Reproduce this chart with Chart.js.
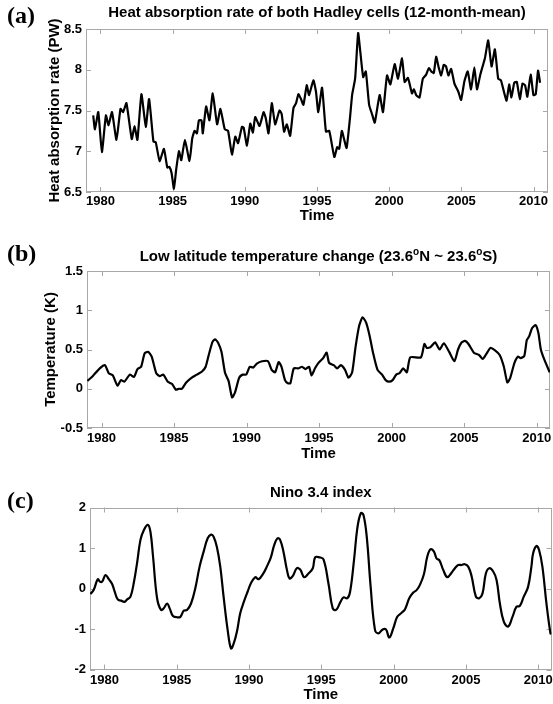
<!DOCTYPE html>
<html>
<head>
<meta charset="utf-8">
<title>Hadley cells, low latitude temperature and Nino 3.4</title>
<script src="https://cdn.jsdelivr.net/npm/chart.js@4.4.1/dist/chart.umd.min.js"></script>
<style>
  html, body { margin: 0; padding: 0; background: #fff; }
  #page { position: relative; width: 553px; height: 704px; }
  canvas { position: absolute; left: 0; }
</style>
</head>
<body>
<div id="page">
  <canvas id="chartA" width="553" height="228" style="top:0"></canvas>
  <canvas id="chartB" width="553" height="238" style="top:228px"></canvas>
  <canvas id="chartC" width="553" height="238" style="top:466px"></canvas>
</div>
<script>
const yearTicks = [1980, 1985, 1990, 1995, 2000, 2005, 2010];

// (a) heat absorption rate of both Hadley cells, 12-month running mean (PW)
const hadleyYears = [
  1979.5, 1979.62, 1979.85, 1980.1, 1980.38, 1980.56, 1980.8, 1981.11, 1981.39, 1981.57,
  1981.8, 1982.17, 1982.36, 1982.56, 1982.84, 1983.14, 1983.37, 1983.67, 1983.83, 1984.1,
  1984.4, 1984.63, 1984.77, 1984.93, 1985.09, 1985.25, 1985.44, 1985.6, 1985.85, 1986.17,
  1986.36, 1986.52, 1986.68, 1986.82, 1987.0, 1987.09, 1987.32, 1987.55, 1987.78, 1988.08,
  1988.31, 1988.61, 1988.84, 1989.11, 1989.34, 1989.53, 1989.8, 1989.92, 1990.15, 1990.38,
  1990.56, 1990.72, 1991.02, 1991.3, 1991.46, 1991.64, 1991.87, 1992.1, 1992.4, 1992.55,
  1992.72, 1992.91, 1993.14, 1993.37, 1993.55, 1993.71, 1993.87, 1994.06, 1994.29, 1994.45,
  1994.75, 1994.93, 1995.09, 1995.35, 1995.62, 1995.85, 1996.2, 1996.4, 1996.54, 1996.72,
  1996.86, 1997.05, 1997.28, 1997.44, 1997.64, 1997.85, 1998.0, 1998.2, 1998.38, 1998.61,
  1998.84, 1999.0, 1999.34, 1999.57, 1999.85, 2000.08, 2000.38, 2000.61, 2000.89, 2001.07,
  2001.3, 2001.58, 2001.71, 2001.87, 2002.1, 2002.33, 2002.56, 2002.75, 2002.91, 2003.09,
  2003.25, 2003.44, 2003.6, 2003.78, 2003.94, 2004.1, 2004.29, 2004.52, 2004.79, 2004.98,
  2005.21, 2005.44, 2005.67, 2005.9, 2006.08, 2006.31, 2006.47, 2006.63, 2006.86, 2007.09,
  2007.32, 2007.55, 2007.74, 2007.92, 2008.13, 2008.31, 2008.47, 2008.66, 2008.84, 2009.05,
  2009.23, 2009.41, 2009.57, 2009.8, 2009.99, 2010.15, 2010.31, 2010.45
];
const hadleyPW = [
  7.44, 7.27, 7.48, 6.99, 7.44, 7.32, 7.48, 7.14, 7.52, 7.48,
  7.59, 7.15, 7.31, 7.14, 7.70, 7.30, 7.64, 7.12, 7.11, 6.88,
  7.03, 6.80, 6.81, 6.73, 6.54, 6.78, 7.00, 6.89, 7.14, 6.88,
  7.16, 7.25, 7.22, 7.38, 7.38, 7.22, 7.55, 7.38, 7.71, 7.33,
  7.52, 7.27, 7.25, 6.96, 7.18, 7.10, 7.30, 7.29, 7.07, 7.34,
  7.23, 7.42, 7.31, 7.48, 7.40, 7.22, 7.59, 7.33, 7.50, 7.46,
  7.24, 7.33, 7.19, 7.53, 7.59, 7.70, 7.65, 7.57, 7.81, 7.69,
  7.87, 7.73, 7.48, 7.78, 7.24, 7.25, 6.93, 7.05, 7.03, 7.25,
  7.16, 7.04, 7.40, 7.70, 7.89, 8.45, 8.22, 7.91, 7.98, 7.57,
  7.44, 7.35, 7.69, 7.48, 7.93, 7.82, 8.07, 7.89, 8.14, 7.85,
  7.90, 7.71, 7.76, 7.69, 7.66, 7.89, 7.94, 8.02, 7.98, 7.96,
  8.16, 8.02, 7.93, 8.06, 8.04, 7.93, 8.01, 7.83, 7.73, 7.63,
  7.86, 7.98, 7.76, 8.03, 7.76, 7.94, 8.04, 8.14, 8.36, 8.04,
  8.25, 7.89, 7.87, 7.75, 7.62, 7.82, 7.66, 7.84, 7.85, 7.64,
  7.83, 7.81, 7.67, 7.94, 7.69, 7.70, 7.99, 7.84
];
const hadleyTicks = [6.5, 7, 7.5, 8, 8.5];

// (b) low latitude temperature change, 23.6N - 23.6S (K)
const tempYears = [
  1979.03, 1979.39, 1979.88, 1980.24, 1980.49, 1980.78, 1981.1, 1981.34, 1981.58, 1981.95,
  1982.24, 1982.48, 1982.73, 1982.97, 1983.21, 1983.46, 1983.77, 1984.01, 1984.26, 1984.57,
  1984.87, 1985.11, 1985.35, 1985.55, 1985.84, 1986.2, 1986.57, 1986.93, 1987.18, 1987.42,
  1987.66, 1987.83, 1988.03, 1988.27, 1988.52, 1988.76, 1989.0, 1989.2, 1989.49, 1989.73,
  1989.98, 1990.22, 1990.46, 1990.71, 1991.07, 1991.48, 1991.73, 1991.97, 1992.21, 1992.41,
  1992.65, 1992.85, 1993.02, 1993.26, 1993.58, 1993.82, 1994.06, 1994.31, 1994.48, 1994.72,
  1994.96, 1995.28, 1995.52, 1995.69, 1996.01, 1996.25, 1996.5, 1996.79, 1997.03, 1997.28,
  1997.52, 1997.76, 1998.0, 1998.25, 1998.49, 1998.73, 1999.03, 1999.34, 1999.59, 1999.83,
  2000.07, 2000.32, 2000.56, 2000.8, 2001.05, 2001.29, 2002.02, 2002.26, 2002.43, 2002.68,
  2003.0, 2003.31, 2003.6, 2003.97, 2004.33, 2004.58, 2004.82, 2005.06, 2005.3, 2005.67,
  2006.03, 2006.28, 2006.52, 2006.81, 2007.13, 2007.45, 2007.74, 2007.98, 2008.18, 2008.47,
  2008.71, 2008.9, 2009.15, 2009.32, 2009.49, 2009.68, 2009.93, 2010.12, 2010.29, 2010.53,
  2010.9
];
const tempK = [
  0.10, 0.16, 0.26, 0.30, 0.20, 0.17, 0.04, 0.11, 0.09, 0.18,
  0.15, 0.25, 0.28, 0.45, 0.47, 0.41, 0.20, 0.16, 0.18, 0.09,
  0.06, -0.01, 0.00, 0.00, 0.08, 0.14, 0.18, 0.22, 0.28, 0.45,
  0.60, 0.63, 0.59, 0.47, 0.20, 0.10, -0.11, -0.05, 0.14, 0.18,
  0.18, 0.28, 0.27, 0.32, 0.35, 0.35, 0.24, 0.21, 0.34, 0.28,
  0.11, 0.07, 0.07, 0.26, 0.26, 0.28, 0.25, 0.28, 0.17, 0.26,
  0.33, 0.39, 0.46, 0.33, 0.30, 0.26, 0.30, 0.24, 0.14, 0.21,
  0.54, 0.80, 0.91, 0.84, 0.67, 0.45, 0.24, 0.18, 0.11, 0.09,
  0.11, 0.18, 0.20, 0.26, 0.21, 0.40, 0.40, 0.57, 0.52, 0.53,
  0.59, 0.50, 0.58, 0.47, 0.35, 0.50, 0.59, 0.61, 0.57, 0.46,
  0.43, 0.38, 0.44, 0.52, 0.49, 0.43, 0.28, 0.08, 0.14, 0.33,
  0.41, 0.39, 0.42, 0.62, 0.67, 0.77, 0.81, 0.71, 0.50, 0.37,
  0.21
];
const tempTicks = [-0.5, 0, 0.5, 1, 1.5];

// (c) Nino 3.4 index
const ninoYears = [
  1979.03, 1979.26, 1979.54, 1979.68, 1979.84, 1980.07, 1980.3, 1980.53, 1980.71, 1980.92,
  1981.15, 1981.38, 1981.57, 1981.8, 1982.03, 1982.26, 1982.49, 1982.72, 1983.0, 1983.18,
  1983.36, 1983.64, 1983.91, 1984.1, 1984.33, 1984.51, 1984.74, 1985.02, 1985.25, 1985.48,
  1985.71, 1985.99, 1986.28, 1986.58, 1986.86, 1987.14, 1987.37, 1987.55, 1987.78, 1988.01,
  1988.24, 1988.52, 1988.75, 1988.93, 1989.16, 1989.39, 1989.67, 1989.9, 1990.13, 1990.43,
  1990.66, 1991.0, 1991.23, 1991.51, 1991.74, 1991.97, 1992.15, 1992.38, 1992.62, 1992.8,
  1993.03, 1993.3, 1993.54, 1993.81, 1994.11, 1994.41, 1994.57, 1994.87, 1995.15, 1995.49,
  1995.79, 1996.02, 1996.3, 1996.53, 1996.8, 1996.99, 1997.26, 1997.49, 1997.73, 1997.91,
  1998.14, 1998.41, 1998.71, 1998.94, 1999.24, 1999.47, 1999.7, 1999.98, 2000.25, 2000.55,
  2000.79, 2001.08, 2001.36, 2001.59, 2001.82, 2002.1, 2002.33, 2002.56, 2002.79, 2002.97,
  2003.16, 2003.43, 2003.71, 2004.01, 2004.24, 2004.47, 2004.7, 2004.93, 2005.16, 2005.39,
  2005.69, 2005.92, 2006.15, 2006.38, 2006.61, 2006.89, 2007.12, 2007.35, 2007.62, 2007.92,
  2008.22, 2008.5, 2008.73, 2009.0, 2009.3, 2009.53, 2009.65, 2009.88, 2010.06, 2010.29,
  2010.57, 2010.85, 2010.9
];
const ninoIndex = [
  -0.14, -0.03, 0.23, 0.17, 0.17, 0.33, 0.23, 0.11, -0.08, -0.27,
  -0.30, -0.33, -0.27, -0.20, 0.14, 0.64, 1.20, 1.44, 1.57, 1.40,
  0.79, -0.24, -0.53, -0.49, -0.37, -0.49, -0.68, -0.71, -0.70, -0.55,
  -0.53, -0.37, 0.00, 0.54, 0.91, 1.24, 1.33, 1.28, 1.02, 0.54,
  -0.20, -1.02, -1.48, -1.37, -1.07, -0.61, -0.30, -0.08, 0.13, 0.28,
  0.23, 0.38, 0.54, 0.77, 1.07, 1.24, 1.20, 0.91, 0.46, 0.25,
  0.31, 0.50, 0.47, 0.28, 0.37, 0.50, 0.77, 0.77, 0.72, 0.13,
  -0.49, -0.53, -0.35, -0.22, -0.24, -0.08, 0.70, 1.49, 1.86, 1.82,
  1.28, 0.05, -1.02, -1.11, -1.01, -1.01, -1.21, -0.98, -0.70, -0.60,
  -0.51, -0.24, -0.10, -0.04, 0.09, 0.36, 0.79, 0.97, 0.91, 0.74,
  0.70, 0.46, 0.28, 0.39, 0.50, 0.58, 0.58, 0.60, 0.54, 0.31,
  -0.20, -0.24, -0.12, 0.37, 0.50, 0.42, 0.21, -0.37, -0.82, -0.94,
  -0.70, -0.45, -0.43, -0.20, 0.04, 0.54, 0.87, 1.05, 0.95, 0.54,
  -0.37, -1.11, -1.08
];
const ninoTicks = [-2, -1, 0, 1, 2];

const SANS = "'Liberation Sans', Arial, sans-serif";
const SERIF = "'Liberation Serif', 'Times New Roman', serif";
const FRAME = '#a8a8a8';

// grey box round the plot with short ticks pointing inwards on all four sides
const boxPlugin = {
  id: 'box',
  beforeDatasetsDraw(chart) {
    const { ctx, chartArea: a, scales } = chart;
    const len = 5;
    ctx.save();
    ctx.strokeStyle = FRAME;
    ctx.lineWidth = 1;
    ctx.strokeRect(Math.round(a.left) + 0.5, Math.round(a.top) + 0.5,
      Math.round(a.right - a.left) - 1, Math.round(a.bottom - a.top) - 1);
    ctx.beginPath();
    scales.x.ticks.forEach(t => {
      const px = Math.round(scales.x.getPixelForValue(t.value)) + 0.5;
      ctx.moveTo(px, a.top); ctx.lineTo(px, a.top + len);
      ctx.moveTo(px, a.bottom); ctx.lineTo(px, a.bottom - len);
    });
    scales.y.ticks.forEach(t => {
      const py = Math.round(scales.y.getPixelForValue(t.value)) + 0.5;
      ctx.moveTo(a.left, py); ctx.lineTo(a.left + len, py);
      ctx.moveTo(a.right, py); ctx.lineTo(a.right - len, py);
    });
    ctx.stroke();
    ctx.restore();
  }
};

// panel letter on the left and the title centred over the plot;
// title parts flagged sup are drawn small and raised
function headPlugin(letter, letterY, parts, titleY) {
  return {
    id: 'head',
    afterDraw(chart) {
      const { ctx, chartArea: a } = chart;
      const big = 'bold 15px ' + SANS;
      const small = 'bold 10px ' + SANS;
      ctx.save();
      ctx.fillStyle = '#000';
      ctx.textBaseline = 'middle';
      ctx.textAlign = 'left';
      ctx.font = 'bold 24px ' + SERIF;
      ctx.fillText(letter, 7, letterY);
      let w = 0;
      parts.forEach(p => { ctx.font = p.sup ? small : big; w += ctx.measureText(p.text).width; });
      let x = (a.left + a.right) / 2 - w / 2;
      parts.forEach(p => {
        ctx.font = p.sup ? small : big;
        ctx.fillText(p.text, x, titleY - (p.sup ? 5 : 0));
        x += ctx.measureText(p.text).width;
      });
      ctx.restore();
    }
  };
}

function drawPanel(id, o) {
  const canvas = document.getElementById(id);
  const points = o.xs.map((x, i) => ({ x: x, y: o.ys[i] }));
  return new Chart(canvas, {
    type: 'line',
    data: {
      datasets: [{
        data: points,
        borderColor: '#000',
        borderWidth: 2.2,
        pointRadius: 0,
        tension: o.tension,
        fill: false
      }]
    },
    options: {
      responsive: false,
      animation: false,
      events: [],
      layout: { padding: { top: o.area.top, right: 553 - o.area.right, left: 0, bottom: 0 } },
      plugins: {
        legend: { display: false },
        tooltip: { enabled: false }
      },
      scales: {
        x: {
          type: 'linear',
          min: o.xMin,
          max: o.xMax,
          afterBuildTicks: s => { s.ticks = yearTicks.map(v => ({ value: v })); },
          afterFit: s => {
            s.height = canvas.height - o.area.bottom;
            s.paddingLeft = 0;
            s.paddingRight = 0;
          },
          grid: { display: false, drawTicks: false },
          border: { display: false },
          ticks: {
            padding: o.xPad,
            color: '#000',
            maxRotation: 0,
            autoSkip: false,
            font: { family: SANS, size: 13, weight: 'bold' },
            callback: v => String(v)
          },
          title: {
            display: true,
            text: 'Time',
            color: '#000',
            font: { family: SANS, size: 15, weight: 'bold' },
            padding: { top: 0, bottom: o.timePad }
          }
        },
        y: {
          min: o.ticks[0],
          max: o.ticks[o.ticks.length - 1],
          afterBuildTicks: s => { s.ticks = o.ticks.map(v => ({ value: v })); },
          afterFit: s => {
            s.width = o.area.left;
            s.paddingTop = 0;
            s.paddingBottom = 0;
          },
          grid: { display: false, drawTicks: false },
          border: { display: false },
          ticks: {
            padding: 4,
            color: '#000',
            font: { family: SANS, size: 13, weight: 'bold' },
            callback: v => String(v)
          },
          title: {
            display: !!o.yTitle,
            text: o.yTitle || '',
            color: '#000',
            font: { family: SANS, size: 15, weight: 'bold' },
            padding: { top: o.yTitleX - 9, bottom: 0 }
          }
        }
      }
    },
    plugins: [boxPlugin, headPlugin(o.letter, o.letterY, o.title, o.titleY)]
  });
}

drawPanel('chartA', {
  xs: hadleyYears, ys: hadleyPW, ticks: hadleyTicks, tension: 0.15,
  xMin: 1979, xMax: 2011,
  area: { left: 86, top: 29, right: 548, bottom: 192 },
  xPad: 1.5, timePad: 3,
  yTitle: 'Heat absorption rate (PW)', yTitleX: 55,
  letter: '(a)', letterY: 17,
  title: [{ text: 'Heat absorption rate of both Hadley cells (12-month-mean)' }], titleY: 13
});

drawPanel('chartB', {
  xs: tempYears, ys: tempK, ticks: tempTicks, tension: 0.2,
  xMin: 1979, xMax: 2010.92,
  area: { left: 87, top: 43, right: 550, bottom: 200 },
  xPad: 2.2, timePad: 3,
  yTitle: 'Temperature (K)', yTitleX: 51,
  letter: '(b)', letterY: 27,
  title: [
    { text: 'Low latitude temperature change (23.6' }, { text: 'o', sup: true },
    { text: 'N ~ 23.6' }, { text: 'o', sup: true }, { text: 'S)' }
  ],
  titleY: 29
});

drawPanel('chartC', {
  xs: ninoYears, ys: ninoIndex, ticks: ninoTicks, tension: 0.4,
  xMin: 1979, xMax: 2010.92,
  area: { left: 90, top: 41.5, right: 551.5, bottom: 203.5 },
  xPad: 2.7, timePad: 0,
  yTitle: '', yTitleX: 0,
  letter: '(c)', letterY: 36,
  title: [{ text: 'Nino 3.4 index' }], titleY: 26.7
});
</script>
</body>
</html>
